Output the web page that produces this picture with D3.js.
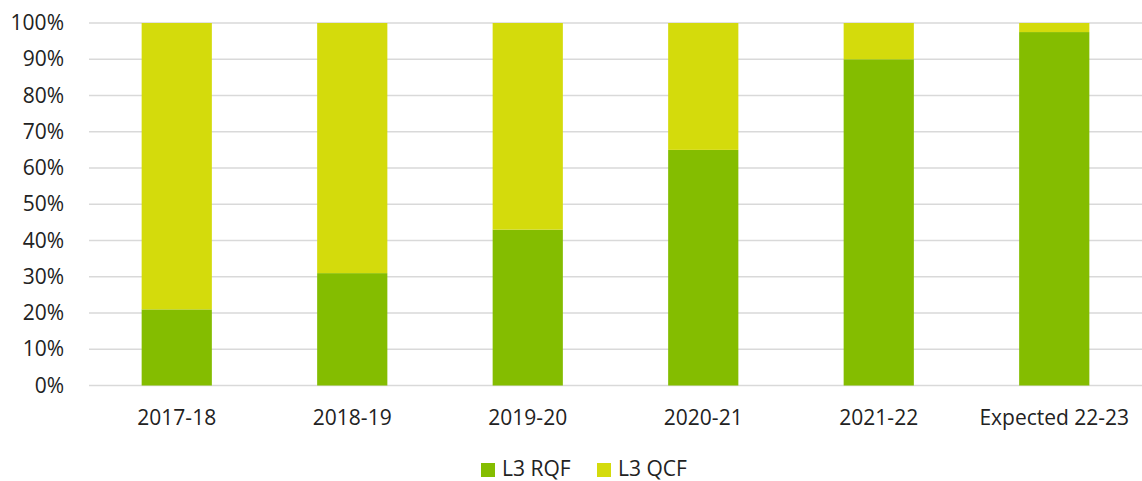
<!DOCTYPE html>
<html><head><meta charset="utf-8">
<script src="https://cdn.jsdelivr.net/npm/d3@7"></script>
<style>body{margin:0;background:#fff;} svg{display:block;font-family:"Open Sans",sans-serif;}</style>
</head><body>
<svg id="c" width="1142" height="481"></svg>
<script>
const categories = ["2017-18","2018-19","2019-20","2020-21","2021-22","Expected 22-23"];
const rqf = [21, 31, 43, 65, 90, 97.5];
const qcf = [79, 69, 57, 35, 10, 2.5];
const seriesNames = ["L3 RQF","L3 QCF"];
const colors = ["#84bd00","#d4db0c"];
const yTicks = [0,10,20,30,40,50,60,70,80,90,100];

(function(){
const svg = d3.select("#c");
const mL = 89, mR = 1142, mT = 23, mB = 385.5;
const x = d3.scaleBand().domain(categories).range([mL,mR]).paddingInner(0.6).paddingOuter(0.3);
const y = d3.scaleLinear().domain([0,100]).range([mB,mT]);

svg.append("g").selectAll("line").data(yTicks).join("line")
  .attr("x1",mL).attr("x2",mR).attr("y1",d=>y(d)).attr("y2",d=>y(d))
  .attr("stroke","#d9d9d9").attr("stroke-width",1.5);

const yAxis = d3.axisLeft(y).tickValues(yTicks).tickFormat(d=>d+"%").tickSize(0).tickPadding(0);
const ga = svg.append("g").attr("transform",`translate(64,0)`).call(yAxis);
ga.select(".domain").remove();
ga.selectAll("text").attr("font-size",21).attr("fill","#222").attr("font-family","Open Sans");

const data = categories.map((c,i)=>({c, a:rqf[i], b:qcf[i]}));
const stack = d3.stack().keys(["a","b"])(data);
svg.append("g").selectAll("g").data(stack).join("g").attr("fill",(d,i)=>colors[i])
  .selectAll("rect").data(d=>d).join("rect")
  .attr("x",d=>x(d.data.c)).attr("width",x.bandwidth())
  .attr("y",d=>y(d[1])).attr("height",d=>y(d[0])-y(d[1]));

const xAxis = d3.axisBottom(x).tickSize(0).tickPadding(0);
const gx = svg.append("g").attr("transform",`translate(0,${mB})`).call(xAxis);
gx.select(".domain").remove();
gx.selectAll("text").attr("dy",null).attr("y",39).attr("font-size",21).attr("fill","#222").attr("font-family","Open Sans");

const legX = [481, 597];
const lg = svg.append("g");
seriesNames.forEach((n,i)=>{
  lg.append("rect").attr("x",legX[i]).attr("y",463).attr("width",14).attr("height",14).attr("fill",colors[i]);
  lg.append("text").attr("x",legX[i]+21).attr("y",476).attr("font-size",21).attr("fill","#222").text(n);
});
})();
</script>
</body></html>
